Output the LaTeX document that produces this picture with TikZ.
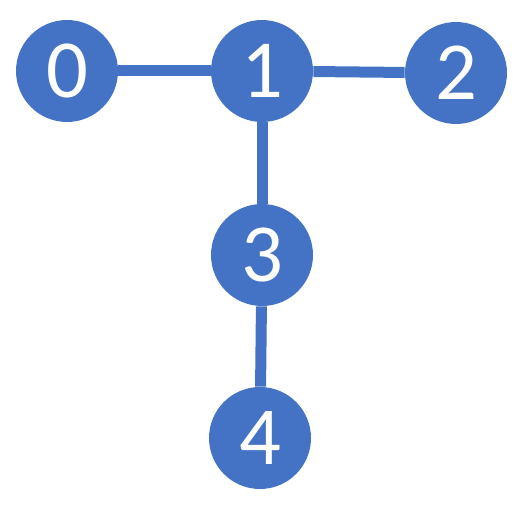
\documentclass[tikz,border=0pt]{standalone}
\usepackage{fontspec}
\setmainfont{Carlito}
\definecolor{nodeblue}{HTML}{4472C4}
\begin{document}
\begin{tikzpicture}[
    x=0.02cm, y=-0.02cm,
    vertex/.style={
        circle,
        fill=nodeblue,
        text=white,
        inner sep=0pt,
        minimum size=2.04cm,
        font=\fontsize{47}{47}\selectfont
    },
    edge/.style={draw=nodeblue, line width=0.22cm}
]
\useasboundingbox (0,0) rectangle (524,506);

% Nodes
\node[vertex] (n0) at (67,71) {0};
\node[vertex] (n1) at (262,71) {1};
\node[vertex] (n2) at (456,73) {2};
\node[vertex] (n3) at (262,255) {3};
\node[vertex] (n4) at (260,438) {4};

% Edges
\draw[edge] (n0) -- (n1);
\draw[edge] (n1) -- (n2);
\draw[edge] (n1) -- (n3);
\draw[edge] (n3) -- (n4);

\end{tikzpicture}
\end{document}
